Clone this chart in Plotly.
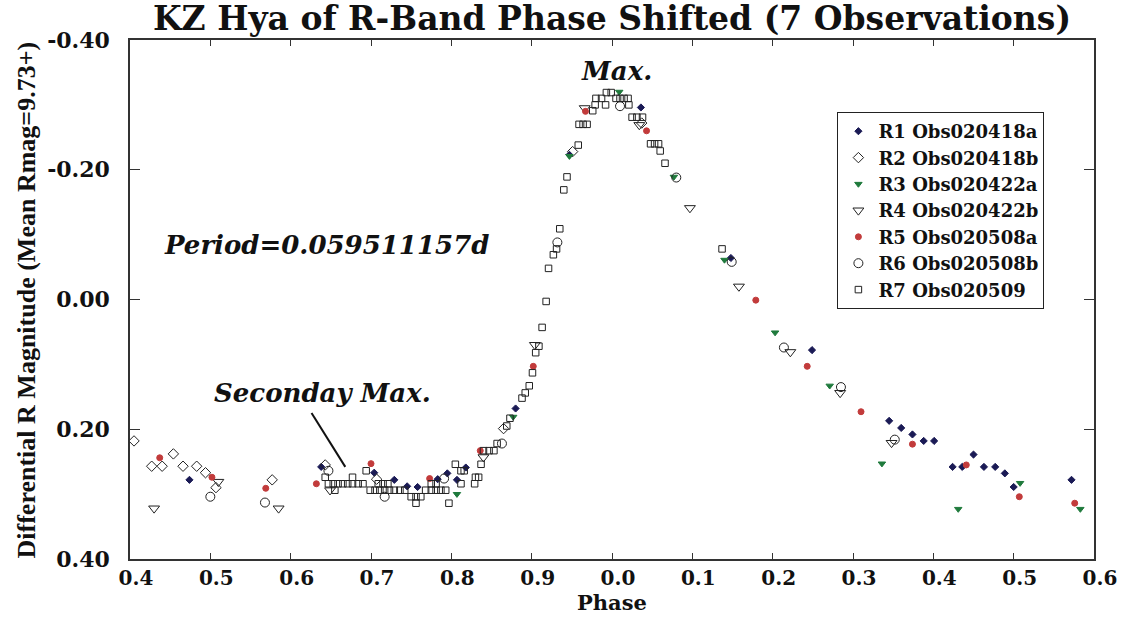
import plotly.graph_objects as go

# ---------------- data (phase shifted, 0.4 .. 1.6) ----------------
r1_phase = [0.474, 0.638, 0.704, 0.729, 0.745, 0.758, 0.783, 0.795, 0.807, 0.818,
            0.880, 0.947, 1.036, 1.148, 1.249, 1.345, 1.360, 1.374, 1.388, 1.401,
            1.424, 1.436, 1.450, 1.463, 1.477, 1.489, 1.500, 1.572]
r1_mag = [0.278, 0.258, 0.267, 0.278, 0.288, 0.289, 0.277, 0.268, 0.278, 0.259,
          0.168, -0.223, -0.296, -0.064, 0.078, 0.187, 0.198, 0.208, 0.218, 0.218,
          0.258, 0.258, 0.239, 0.258, 0.258, 0.268, 0.289, 0.278]

r2_phase = [0.405, 0.427, 0.440, 0.454, 0.466, 0.483, 0.494, 0.507, 0.577, 0.643,
            0.707, 0.865, 0.951, 1.037]
r2_mag = [0.218, 0.257, 0.257, 0.238, 0.257, 0.257, 0.267, 0.290, 0.278, 0.255,
          0.277, 0.199, -0.228, -0.272]

r3_phase = [0.807, 0.877, 0.947, 1.009, 1.077, 1.140, 1.203, 1.271, 1.336, 1.431,
            1.508, 1.583]
r3_mag = [0.300, 0.181, -0.221, -0.320, -0.189, -0.061, 0.051, 0.133, 0.253, 0.323,
          0.283, 0.323]

r4_phase = [0.430, 0.510, 0.585, 0.649, 0.840, 0.904, 0.966, 1.034, 1.097, 1.158,
            1.222, 1.284, 1.348]
r4_mag = [0.322, 0.281, 0.322, 0.294, 0.243, 0.070, -0.295, -0.269, -0.141, -0.020,
          0.081, 0.144, 0.221]

r5_phase = [0.437, 0.502, 0.569, 0.632, 0.700, 0.773, 0.836, 0.902, 0.967, 1.043,
            1.179, 1.243, 1.310, 1.374, 1.441, 1.507, 1.576]
r5_mag = [0.244, 0.274, 0.291, 0.284, 0.253, 0.276, 0.233, 0.103, -0.290, -0.260,
          0.001, 0.103, 0.173, 0.223, 0.255, 0.304, 0.314]

r6_phase = [0.500, 0.568, 0.647, 0.717, 0.791, 0.863, 0.932, 1.010, 1.080, 1.149,
            1.214, 1.285, 1.352]
r6_mag = [0.304, 0.313, 0.264, 0.304, 0.276, 0.222, -0.088, -0.298, -0.188, -0.058,
          0.074, 0.135, 0.216]

r7_phase = [0.643, 0.647, 0.653, 0.655, 0.659, 0.665, 0.671, 0.677, 0.677, 0.684,
            0.690, 0.694, 0.699, 0.705, 0.709, 0.711, 0.715, 0.717, 0.721, 0.723,
            0.729, 0.736, 0.742, 0.750, 0.756, 0.756, 0.762, 0.768, 0.775, 0.775,
            0.781, 0.781, 0.787, 0.793, 0.797, 0.805, 0.812, 0.812, 0.816, 0.829,
            0.830, 0.834, 0.837, 0.840, 0.847, 0.853, 0.857, 0.869, 0.873, 0.888,
            0.892, 0.897, 0.901, 0.905, 0.909, 0.913, 0.918, 0.921, 0.927, 0.931,
            0.935, 0.940, 0.944, 0.958, 0.959, 0.964, 0.969, 0.976, 0.979, 0.980,
            0.987, 0.992, 0.993, 0.999, 1.005, 1.010, 1.015, 1.020, 1.021, 1.025,
            1.031, 1.038, 1.048, 1.053, 1.058, 1.060, 1.066, 1.137]
r7_mag = [0.274, 0.284, 0.284, 0.294, 0.284, 0.284, 0.284, 0.274, 0.284, 0.284,
          0.284, 0.264, 0.294, 0.294, 0.284, 0.294, 0.284, 0.294, 0.284, 0.294,
          0.294, 0.294, 0.294, 0.304, 0.304, 0.314, 0.304, 0.294, 0.294, 0.284,
          0.294, 0.284, 0.294, 0.294, 0.314, 0.254, 0.264, 0.284, 0.264, 0.284,
          0.274, 0.274, 0.254, 0.233, 0.233, 0.233, 0.222, 0.195, 0.183, 0.152,
          0.144, 0.133, 0.113, 0.082, 0.072, 0.043, 0.003, -0.048, -0.069, -0.078,
          -0.109, -0.169, -0.189, -0.238, -0.270, -0.270, -0.270, -0.291, -0.300, -0.310,
          -0.310, -0.300, -0.319, -0.319, -0.310, -0.310, -0.310, -0.310, -0.300, -0.281,
          -0.281, -0.281, -0.240, -0.240, -0.240, -0.229, -0.210, -0.078]

x_tickvals = [0.4, 0.5, 0.6, 0.7, 0.8, 0.9, 1.0, 1.1, 1.2, 1.3, 1.4, 1.5, 1.6]
x_ticktext = ["0.4", "0.5", "0.6", "0.7", "0.8", "0.9", "0.0", "0.1", "0.2", "0.3", "0.4", "0.5", "0.6"]
y_tickvals = [-0.4, -0.2, 0.0, 0.2, 0.4]
y_ticktext = ["-0.40", "-0.20", "0.00", "0.20", "0.40"]

series = [
    ("R1 Obs020418a", r1_phase, r1_mag, "diamond", 5.5, "#1a1a55"),
    ("R2 Obs020418b", r2_phase, r2_mag, "diamond-open", 8, "#222222"),
    ("R3 Obs020422a", r3_phase, r3_mag, "triangle-down", 6.5, "#1f7a3c"),
    ("R4 Obs020422b", r4_phase, r4_mag, "triangle-down-open", 9.5, "#222222"),
    ("R5 Obs020508a", r5_phase, r5_mag, "circle", 6, "#c23b3b"),
    ("R6 Obs020508b", r6_phase, r6_mag, "circle-open", 9, "#222222"),
    ("R7 Obs020509", r7_phase, r7_mag, "square-open", 6.5, "#222222"),
]

SERIF = "DejaVu Serif"

fig = go.Figure()
for name, xs, ys, sym, size, color in series:
    fig.add_trace(go.Scatter(
        x=xs, y=ys, mode="markers", name=name,
        marker=dict(symbol=sym, size=size, color=color,
                    line=dict(color=color, width=1)),
    ))

axis_common = dict(
    showline=True, linecolor="#333333", linewidth=1.5, mirror="ticks",
    ticks="inside", tickcolor="#333333", showgrid=False, zeroline=False,
)
tick_font = dict(family=SERIF, size=22, color="#111111", weight="bold")

fig.update_layout(
    width=1129, height=617, autosize=False,
    margin=dict(l=130, r=26, t=40, b=58),
    paper_bgcolor="white", plot_bgcolor="white",
    title=dict(text="KZ Hya of R-Band Phase Shifted (7 Observations)",
               x=0.5, xref="paper", xanchor="center",
               y=1 - 18 / 617, yref="container", yanchor="middle",
               font=dict(family=SERIF, size=33, color="#111111", weight="bold")),
    xaxis=dict(range=[0.4, 1.6], tickmode="array", tickvals=x_tickvals,
               ticktext=x_ticktext, ticklen=6, ticklabelstandoff=0,
               ticklabelshift=6, tickfont=dict(tick_font, size=20), **axis_common),
    yaxis=dict(range=[0.4, -0.4], tickmode="array", tickvals=y_tickvals,
               ticktext=y_ticktext, ticklen=10, ticklabelstandoff=14,
               tickfont=tick_font, **axis_common),
    legend=dict(x=(844 - 130) / 973, y=(559 - 112) / 519, xanchor="left", yanchor="top",
                bgcolor="white", bordercolor="#222222", borderwidth=1,
                font=dict(family=SERIF, size=18, color="#111111", weight="bold"),
                itemwidth=30),
    showlegend=True,
)

ann_font = dict(family=SERIF, size=26, color="#111111", weight="bold", style="italic")
fig.add_annotation(x=1.006, y=-0.352, xref="x", yref="y", text="Max.",
                   showarrow=False, font=ann_font)
fig.add_annotation(x=0.645, y=-0.084, xref="x", yref="y", text="Period=0.059511157d",
                   showarrow=False, font=ann_font)
fig.add_annotation(x=0.640, y=0.144, xref="x", yref="y", text="Seconday Max.",
                   showarrow=False, font=ann_font)
fig.add_shape(type="line", xref="x", yref="y", x0=0.626, y0=0.175, x1=0.668, y1=0.258,
              line=dict(color="#111111", width=2))

# axis titles
fig.add_annotation(x=(26 - 130) / 973, y=0.5, xref="paper", yref="paper",
                   xanchor="center", yanchor="middle",
                   text="Differential R Magnitude (Mean Rmag=9.73+)", textangle=-90,
                   showarrow=False,
                   font=dict(family="Liberation Serif", size=26, color="#111111", weight="bold"))
fig.add_annotation(x=0.5, y=-(603 - 559) / 519, xref="paper", yref="paper",
                   xanchor="center", text="Phase", showarrow=False, yanchor="middle",
                   font=dict(family=SERIF, size=21, color="#111111", weight="bold"))

fig.write_html("out.html")
